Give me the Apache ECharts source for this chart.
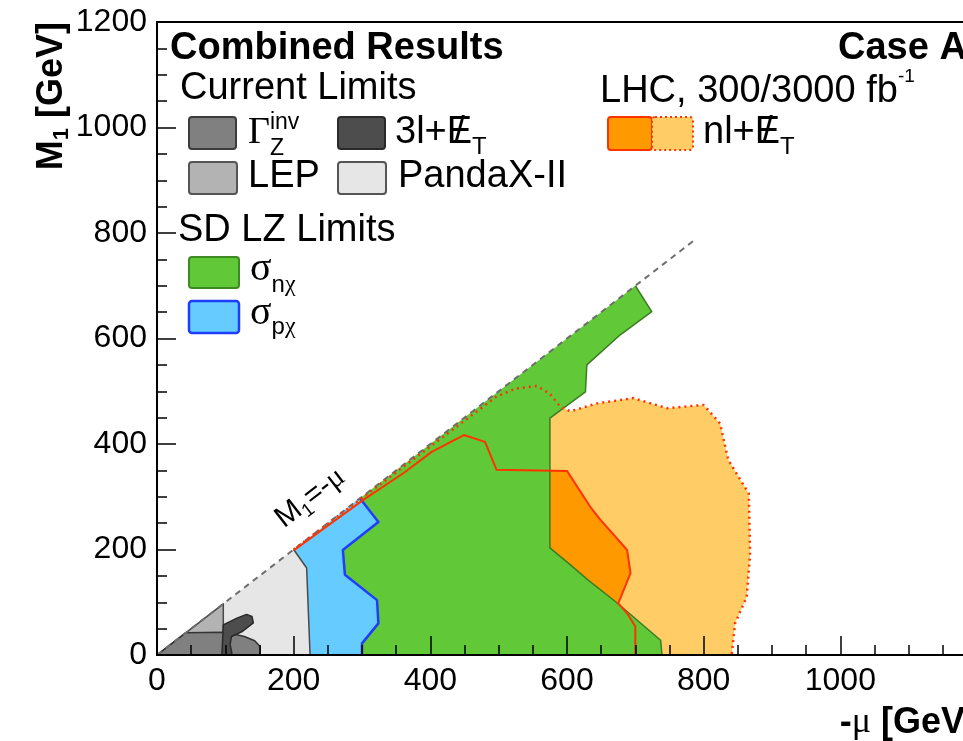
<!DOCTYPE html>
<html>
<head>
<meta charset="utf-8">
<script src="https://cdn.jsdelivr.net/npm/echarts@6/dist/echarts.min.js"></script>
<style>
  html, body { margin: 0; padding: 0; background: #fff; }
  #chart { width: 963px; height: 741px; }
</style>
</head>
<body>
<div id="chart"></div>
<script>
// ---- axis ranges (GeV) ----
const xRange = [0, 1200];
const yRange = [0, 1200];
const majorStep = 200;

// ---- excluded regions in the (-mu, M1) plane, vertices in GeV ----
const pandaxRegion = [[0,0],[200,200],[219,165],[224,0]];
const lepRegion = [[0,0],[97,97],[97,0]];
const gammaZRegion = [[0,0],[42,42],[97,43],[112,40],[128,35],[143,27],[151,16],[151,0]];
const trilepRegion = [[95,0],[97,57],[117,70],[131,77],[139,73],[141,61],[124,44],[109,35],[107,20],[110,0]];
// LZ spin-dependent proton limit: outer (right) edge, then back along PandaX-II
const lzProtonEdge = [[297,297],[324,252],[272,199],[275,152],[322,104],[324,60],[300,22],[300,0]];
const lzProtonInner = [[224,0],[219,165],[200,200]];
// LZ spin-dependent neutron limit: diagonal top and right edge
const lzNeutronEdge = [[297,297],[700,700],[724,651],[678,607],[629,550],[627,499],[575,449],[575,203],[605,171],[631,142],[673,99],[737,28],[739,0]];
// LHC n-lepton + missing ET reach, 300 fb^-1 (solid) and 3000 fb^-1 (dotted)
const lhc300Edge = [[200,198],[304,296],[361,345],[402,385],[449,417],[480,404],[497,351],[600,349],[634,281],[649,256],[688,199],[693,155],[675,98],[688,79],[700,54],[700,0]];
const lhc3000Edge = [[200,200],[497,490],[525,505],[556,510],[575,495],[590,471],[605,462],[644,477],[697,487],[746,468],[800,474],[824,439],[836,370],[866,306],[868,193],[863,110],[846,60],[841,0]];
// M1 = -mu boundary
const diagonalLine = [[0,0],[790,790]];

// ---- polygons built from the edges ----
const lzProtonRegion = lzProtonEdge.concat(lzProtonInner);
const lzNeutronRegion = lzNeutronEdge.concat(lzProtonEdge.slice().reverse());

// ---- helpers ----
function closeToAxis(edge) {
  return edge.concat([[edge[0][0], 0]]);
}
function areaSeries(name, pts, style) {
  return {
    type: 'custom', name: name, coordinateSystem: 'cartesian2d',
    silent: true, clip: true, data: [pts[0]], encode: { x: 0, y: 1 },
    renderItem: function (params, api) {
      return {
        type: 'polygon',
        shape: { points: pts.map(function (p) { return api.coord(p); }) },
        style: Object.assign({ lineJoin: 'round' }, style)
      };
    }
  };
}
function lineSeries(name, pts, style) {
  return {
    type: 'custom', name: name, coordinateSystem: 'cartesian2d',
    silent: true, clip: true, data: [pts[0]], encode: { x: 0, y: 1 },
    renderItem: function (params, api) {
      return {
        type: 'polyline',
        shape: { points: pts.map(function (p) { return api.coord(p); }) },
        style: Object.assign({ fill: 'none', lineJoin: 'round' }, style)
      };
    }
  };
}

const SANS = '"Liberation Sans", Arial, Helvetica, sans-serif';
const SERIF = '"Liberation Serif", "Times New Roman", serif';
const measureCtx = document.createElement('canvas').getContext('2d');
function fontOf(p) {
  return (p.bold ? 'bold ' : '') + p.size + 'px ' + (p.serif ? SERIF : SANS);
}
function textWidth(p) {
  measureCtx.font = fontOf(p);
  return measureCtx.measureText(p.t).width;
}
// Lays out pieces of text left to right (sub/superscripts, overstrikes)
function runText(parts, x0, y0, align) {
  let total = 0;
  parts.forEach(function (p) { if (!p.over && !p.overPrev) total += textWidth(p); });
  let x = align === 'right' ? x0 - total : (align === 'center' ? x0 - total / 2 : x0);
  let prevX = x, prevW = 0;
  const out = [];
  parts.forEach(function (p) {
    const w = textWidth(p);
    let px = x;
    if (p.overPrev) px = prevX + (prevW - w) / 2;
    out.push({
      type: 'text', x: px + (p.dx || 0), y: y0 + (p.dy || 0), z: 100,
      style: { text: p.t, font: fontOf(p), fill: '#000', align: 'left', verticalAlign: 'middle' }
    });
    if (!p.over && !p.overPrev) { prevX = x; prevW = w; x += w; }
  });
  return out;
}
function box(x, y, w, h, fill, stroke, lw, dash) {
  return {
    type: 'rect', z: 100, shape: { x: x, y: y, width: w, height: h, r: 3 },
    style: { fill: fill, stroke: stroke, lineWidth: lw || 2, lineDash: dash || null }
  };
}

// ---- annotations ----
const graphics = [];
graphics.push.apply(graphics, runText([{ t: 'Combined Results', bold: true, size: 38 }], 170, 49));
graphics.push.apply(graphics, runText([{ t: 'Case A', bold: true, size: 38 }], 838, 49));
graphics.push.apply(graphics, runText([{ t: 'Current Limits', size: 38 }], 180, 89));

graphics.push(box(189, 117, 47, 32, '#808080', '#3c3c3c'));
graphics.push.apply(graphics, runText([
  { t: 'Γ', serif: true, size: 38 },
  { t: 'inv', size: 23, dy: -10, over: true },
  { t: 'Z', size: 23, dy: 16 }
], 248, 133));

graphics.push(box(338, 117, 47, 32, '#4d4d4d', '#2a2a2a'));
graphics.push.apply(graphics, runText([
  { t: '3l+', size: 38 },
  { t: 'E', size: 38 },
  { t: '/', size: 38, overPrev: true },
  { t: 'T', size: 24, dy: 14 }
], 395, 133));

graphics.push(box(189, 162, 48, 32, '#b3b3b3', '#555555'));
graphics.push.apply(graphics, runText([{ t: 'LEP', size: 38 }], 248, 177));
graphics.push(box(338, 162, 48, 32, '#e6e6e6', '#555555'));
graphics.push.apply(graphics, runText([{ t: 'PandaX-II', size: 38 }], 398, 177));

graphics.push.apply(graphics, runText([{ t: 'SD LZ Limits', size: 38 }], 178, 231));
graphics.push(box(189, 257, 50, 31, '#61c938', '#3d8a22'));
graphics.push.apply(graphics, runText([
  { t: 'σ', serif: true, size: 40 },
  { t: 'n', size: 24, dy: 16 },
  { t: 'χ', serif: true, size: 24, dy: 16 }
], 250, 269));
graphics.push(box(189, 301, 50, 32, '#66ccff', '#1f3dff', 2.5));
graphics.push.apply(graphics, runText([
  { t: 'σ', serif: true, size: 40 },
  { t: 'p', size: 24, dy: 14 },
  { t: 'χ', serif: true, size: 24, dy: 14 }
], 250, 313));

graphics.push.apply(graphics, runText([
  { t: 'LHC, 300/3000 fb', size: 38 },
  { t: '-1', size: 19, dy: -15 }
], 600, 92));
graphics.push(box(608, 117, 44, 33, '#ff9900', '#ff3300', 2));
graphics.push(box(652, 117, 41, 33, '#ffcc66', '#ff3300', 2, [2, 3]));
graphics.push.apply(graphics, runText([
  { t: 'nl+', size: 38 },
  { t: 'E', size: 38 },
  { t: '/', size: 38, overPrev: true },
  { t: 'T', size: 24, dy: 14 }
], 703, 133));

// axis titles
graphics.push.apply(graphics, runText([
  { t: '-', bold: true, size: 36 },
  { t: 'μ', serif: true, size: 36 },
  { t: ' [GeV]', bold: true, size: 36 }
], 977, 723, 'right'));
graphics.push({
  type: 'group', x: 52, y: 22, rotation: Math.PI / 2, z: 100,
  children: runText([
    { t: 'M', bold: true, size: 36 },
    { t: '1', bold: true, size: 22, dy: 10 },
    { t: ' [GeV]', bold: true, size: 36 }
  ], 0, 0, 'right')
});
// label on the M1 = -mu line
graphics.push({
  type: 'group', x: 279, y: 522, rotation: Math.atan(633 / 820), z: 100,
  children: runText([
    { t: 'M', size: 30 },
    { t: '1', size: 19, dy: 9 },
    { t: '=-', size: 30 },
    { t: 'μ', serif: true, size: 30 }
  ], 0, 0)
});

const axisCommon = {
  type: 'value', interval: majorStep, z: 10,
  axisLine: { show: true, onZero: false, lineStyle: { color: '#000', width: 2 } },
  axisTick: { show: true, inside: true, length: 19, lineStyle: { color: '#000', width: 1.5 } },
  minorTick: { show: true, splitNumber: 4, length: 10, lineStyle: { color: '#000', width: 1.5 } },
  splitLine: { show: false },
  minorSplitLine: { show: false }
};
const plainNumber = function (v) { return String(v); };

const option = {
  animation: false,
  backgroundColor: '#ffffff',
  // the frame runs past the right edge of the page
  grid: {
    left: 157, top: 22, width: 820, height: 633,
    containLabel: false, outerBoundsMode: 'none',
    show: true, borderColor: '#000', borderWidth: 2, backgroundColor: 'transparent'
  },
  xAxis: Object.assign({}, axisCommon, {
    min: xRange[0], max: xRange[1],
    axisLabel: { fontSize: 32, color: '#000', fontFamily: SANS, margin: 10, showMaxLabel: false, formatter: plainNumber }
  }),
  yAxis: Object.assign({}, axisCommon, {
    min: yRange[0], max: yRange[1],
    axisLabel: { fontSize: 32, color: '#000', fontFamily: SANS, margin: 10, formatter: plainNumber }
  }),
  series: [
    areaSeries('LHC 3000', closeToAxis(lhc3000Edge), { fill: '#ffcc66' }),
    areaSeries('LHC 300', closeToAxis(lhc300Edge), { fill: '#ff9900' }),
    areaSeries('PandaX-II', pandaxRegion, { fill: '#e6e6e6' }),
    areaSeries('LEP', lepRegion, { fill: '#b3b3b3', stroke: '#4a4a4a', lineWidth: 1.5 }),
    areaSeries('Gamma Z inv', gammaZRegion, { fill: '#808080', stroke: '#333333', lineWidth: 1.5 }),
    areaSeries('3l+MET', trilepRegion, { fill: '#4d4d4d', stroke: '#2a2a2a', lineWidth: 1.5 }),
    areaSeries('sigma n chi', lzNeutronRegion, { fill: '#61c938' }),
    lineSeries('sigma n chi edge', lzNeutronEdge.slice(1), { stroke: '#3a7d22', lineWidth: 1.5 }),
    areaSeries('sigma p chi', lzProtonRegion, { fill: '#66ccff' }),
    lineSeries('sigma p chi edge', lzProtonEdge, { stroke: '#1f3dff', lineWidth: 2.5 }),
    lineSeries('PandaX-II edge', pandaxRegion.slice(1), { stroke: '#4a4a4a', lineWidth: 1.5 }),
    lineSeries('M1 = -mu', diagonalLine, { stroke: '#6e6e6e', lineWidth: 2, lineDash: [6, 5] }),
    lineSeries('LHC 300 edge', lhc300Edge, { stroke: '#ff3300', lineWidth: 2 }),
    lineSeries('LHC 3000 edge', lhc3000Edge, { stroke: '#ff3300', lineWidth: 2.5, lineDash: [2, 4] })
  ],
  graphic: graphics
};

const chart = echarts.init(document.getElementById('chart'), null, { renderer: 'canvas', width: 963, height: 741 });
chart.setOption(option);
</script>
</body>
</html>
